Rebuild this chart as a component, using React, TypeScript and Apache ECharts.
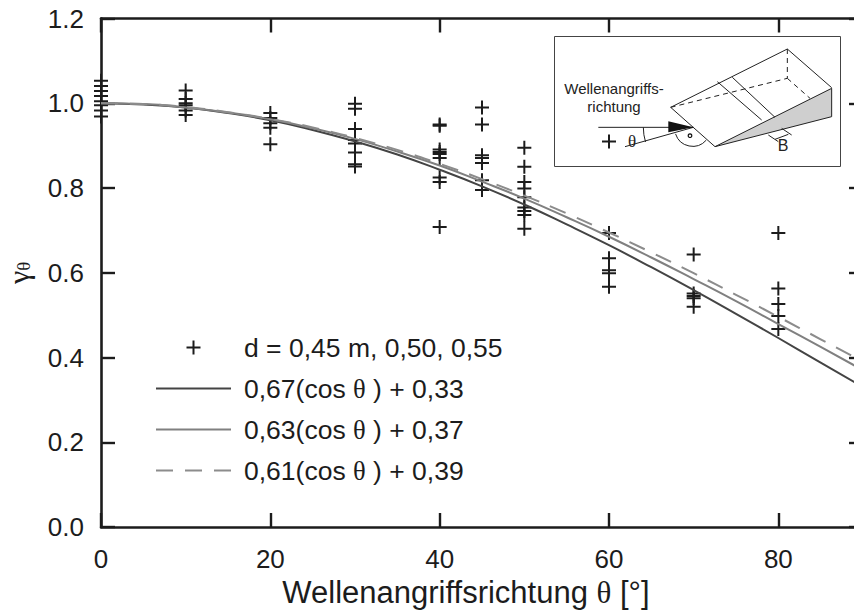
import React, { useEffect, useRef } from "react";
import * as echarts from "echarts";

const angles = [0, 5, 10, 15, 20, 25, 30, 35, 40, 45, 50, 55, 60, 65, 70, 75, 80, 85, 90];
const curve67 = [1.0, 0.997, 0.99, 0.977, 0.96, 0.937, 0.91, 0.879, 0.843, 0.804, 0.761, 0.714, 0.665, 0.613, 0.559, 0.503, 0.446, 0.388, 0.33];
const curve63 = [1.0, 0.998, 0.99, 0.978, 0.962, 0.941, 0.916, 0.886, 0.853, 0.815, 0.775, 0.731, 0.685, 0.636, 0.585, 0.533, 0.479, 0.425, 0.37];
const curve61 = [1.0, 0.998, 0.991, 0.979, 0.963, 0.943, 0.918, 0.89, 0.857, 0.821, 0.782, 0.74, 0.695, 0.648, 0.599, 0.548, 0.496, 0.443, 0.39];

const at0 = [1.053, 1.041, 1.029, 1.017, 1.005, 0.995, 0.983, 0.969];
const at10 = [1.03, 1.01, 1.0, 0.995, 0.983, 0.972];
const at20 = [0.977, 0.965, 0.953, 0.942, 0.903];
const at30 = [0.999, 0.987, 0.939, 0.913, 0.905, 0.884, 0.856, 0.851];
const at40 = [0.95, 0.947, 0.891, 0.885, 0.88, 0.871, 0.825, 0.814, 0.708];
const at45 = [0.99, 0.95, 0.877, 0.871, 0.859, 0.818, 0.795];
const at50 = [0.895, 0.85, 0.814, 0.799, 0.778, 0.754, 0.746, 0.736, 0.704];
const at60 = [0.91, 0.694, 0.634, 0.606, 0.599, 0.567];
const at70 = [0.643, 0.551, 0.545, 0.54, 0.52];
const at80 = [0.694, 0.563, 0.526, 0.498, 0.467];

const groups: [number, number[]][] = [
  [0, at0], [10, at10], [20, at20], [30, at30], [40, at40],
  [45, at45], [50, at50], [60, at60], [70, at70], [80, at80],
];

const SANS = '"Liberation Sans", Arial, sans-serif';
const SERIF = '"Liberation Serif", serif';
const INK = "#1c1c1c";
const PLUS = "path://M0 7H14M7 0V14";
const rad = (d: number) => (d * Math.PI) / 180;

// Inset drawing: coordinates measured on the reference
const ix = (v: number) => 530 + v / 3;
const iy = (v: number) => 20 + v / 3;
const seg = (x1: number, y1: number, x2: number, y2: number, dash?: number[]) => ({
  type: "line",
  shape: { x1: ix(x1), y1: iy(y1), x2: ix(x2), y2: iy(y2) },
  style: { stroke: "#222", lineWidth: 1, lineDash: dash },
});

const insetChildren: any[] = [
  { type: "rect", shape: { x: 554.5, y: 36.5, width: 286, height: 130 }, style: { fill: "#fff", stroke: "#444", lineWidth: 1 } },
  {
    type: "polygon",
    shape: { points: [[ix(555), iy(380)], [ix(905), iy(205)], [ix(905), iy(290)]] },
    style: { fill: "#cfcfcf", stroke: "#222", lineWidth: 1 },
  },
  seg(422, 262, 772, 87),
  seg(772, 87, 905, 203),
  seg(422, 262, 555, 380),
  seg(562, 185, 695, 300),
  seg(607, 172, 735, 292),
  seg(422, 262, 772, 175, [5, 4]),
  seg(772, 87, 772, 175, [5, 4]),
  seg(772, 175, 840, 235, [5, 4]),
  seg(205, 322, 490, 322),
  seg(285, 380, 490, 322),
  seg(715, 345, 745, 365),
  seg(755, 325, 785, 345),
  seg(735, 358, 775, 343),
  {
    type: "polygon",
    shape: { points: [[ix(415), iy(304)], [ix(490), iy(322)], [ix(415), iy(337)]] },
    style: { fill: "#111" },
  },
  {
    type: "arc",
    shape: { cx: ix(490), cy: iy(322), r: 50, startAngle: rad(163), endAngle: rad(180), clockwise: true },
    style: { stroke: "#222", fill: "none", lineWidth: 1 },
  },
  {
    type: "arc",
    shape: { cx: ix(488), cy: iy(325), r: 18, startAngle: rad(41), endAngle: rad(162), clockwise: true },
    style: { stroke: "#222", fill: "none", lineWidth: 1 },
  },
  { type: "circle", shape: { cx: ix(480), cy: iy(347), r: 1.8 }, style: { fill: "#fff", stroke: "#111", lineWidth: 1.2 } },
  {
    type: "text", x: 614, y: 97,
    style: { text: "Wellenangriffs-\nrichtung", font: `15px ${SANS}`, lineHeight: 18, fill: "#222", align: "center", verticalAlign: "middle" },
  },
  { type: "text", x: 632, y: 141, style: { text: "θ", font: `17px ${SERIF}`, fill: "#222", align: "center", verticalAlign: "middle" } },
  { type: "text", x: 783, y: 145, style: { text: "B", font: `16px ${SANS}`, fill: "#222", align: "center", verticalAlign: "middle" } },
];

export default function App() {
  const ref = useRef<HTMLDivElement>(null);
  useEffect(() => {
    const chart = echarts.init(ref.current!, null, { renderer: "svg" });
    const axisLine = { show: true, onZero: false, lineStyle: { color: INK, width: 2.6 } };
    const tick = { show: true, inside: true, length: 14, lineStyle: { color: INK, width: 2.4 } };
    const pair = (ys: number[]) => angles.map((a, i) => [a, ys[i]]);
    const hiddenDot = { color: "transparent", borderColor: "transparent", borderWidth: 0 };
    const lineSeries = (name: string, ys: number[], color: string, dash?: number[]) => ({
      name,
      type: "line",
      data: pair(ys),
      smooth: true,
      showSymbol: false,
      symbol: "none",
      z: 4,
      lineStyle: { color, width: 2, type: dash ?? "solid" },
      itemStyle: { color },
    });
    chart.setOption({
      animation: false,
      backgroundColor: "#fff",
      textStyle: { fontFamily: SANS },
      grid: { left: 101, right: -9, top: 18.5, bottom: 88, containLabel: false, outerBoundsMode: "none" },
      xAxis: [
        {
          type: "value", min: 0, max: 90, interval: 20, position: "bottom",
          axisLine, axisTick: tick, splitLine: { show: false },
          axisLabel: { color: INK, fontSize: 26, margin: 19, fontFamily: SANS, showMaxLabel: false },
          name: "Wellenangriffsrichtung {t|θ} [°]",
          nameLocation: "middle",
          nameGap: 50,
          nameTextStyle: {
            color: INK, fontSize: 31, fontFamily: SANS, padding: [0, 32, 0, 0],
            rich: { t: { fontFamily: SERIF, fontSize: 31, color: INK } },
          },
        },
        {
          type: "value", min: 0, max: 90, interval: 20, position: "top",
          axisLine, axisTick: tick, axisLabel: { show: false }, splitLine: { show: false },
        },
      ],
      yAxis: [
        {
          type: "value", min: 0, max: 1.2, interval: 0.2, position: "left",
          axisLine, axisTick: tick, splitLine: { show: false },
          axisLabel: { color: INK, fontSize: 26, margin: 17, fontFamily: SANS, formatter: (v: number) => v.toFixed(1) },
          name: "{g|γ}{s|θ}",
          nameLocation: "middle",
          nameRotate: 90,
          nameGap: 68,
          nameTextStyle: {
            rich: {
              g: { fontFamily: SERIF, fontSize: 30, color: INK },
              s: { fontFamily: SERIF, fontSize: 19, color: INK, verticalAlign: "bottom", padding: [8, 0, 0, 0] },
            },
          },
        },
        {
          type: "value", min: 0, max: 1.2, interval: 0.2, position: "right",
          axisLine, axisTick: tick, axisLabel: { show: false }, splitLine: { show: false },
        },
      ],
      legend: {
        left: 150,
        top: 329,
        orient: "vertical",
        itemWidth: 75,
        itemHeight: 14,
        itemGap: 14,
        selectedMode: false,
        formatter: (n: string) => n.replace("θ", "{t|θ}"),
        textStyle: {
          color: INK, fontSize: 26.5, fontFamily: SANS, padding: [0, 0, 0, 8],
          rich: { t: { fontFamily: SERIF, fontSize: 26.5, color: INK } },
        },
        data: [
          { name: "d = 0,45 m, 0,50, 0,55", icon: PLUS, itemStyle: { color: "none", borderColor: INK, borderWidth: 2 } },
          { name: "0,67(cos θ ) + 0,33", itemStyle: hiddenDot },
          { name: "0,63(cos θ ) + 0,37", itemStyle: hiddenDot },
          { name: "0,61(cos θ ) + 0,39", itemStyle: hiddenDot },
        ],
      },
      graphic: { elements: [{ type: "group", z: 1, children: insetChildren }] },
      series: [
        {
          name: "d = 0,45 m, 0,50, 0,55",
          type: "scatter",
          symbol: PLUS,
          symbolSize: 14,
          z: 3,
          clip: false,
          itemStyle: { color: "none", borderColor: INK, borderWidth: 2, opacity: 1 },
          data: groups.flatMap(([x, ys]) => ys.map((y) => [x, y])),
        },
        lineSeries("0,67(cos θ ) + 0,33", curve67, "#444444"),
        lineSeries("0,63(cos θ ) + 0,37", curve63, "#808080"),
        lineSeries("0,61(cos θ ) + 0,39", curve61, "#8c8c8c", [17, 12]),
      ],
    });
    return () => chart.dispose();
  }, []);
  return (
    <div style={{ position: "fixed", left: 0, top: 0, width: 854, height: 615, overflow: "hidden", background: "#fff" }}>
      <div ref={ref} style={{ width: 854, height: 615 }} />
    </div>
  );
}
